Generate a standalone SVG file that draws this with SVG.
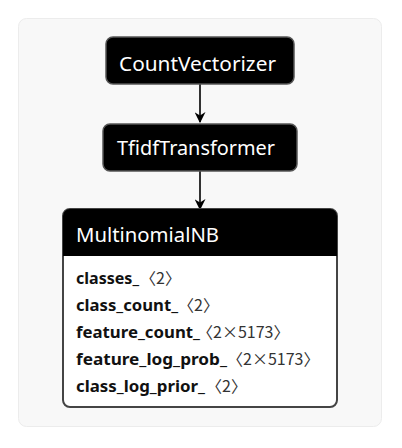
<svg xmlns="http://www.w3.org/2000/svg" width="402" height="448" viewBox="0 0 402 448">
<defs>
<marker id="arr" viewBox="0 0 10 10" refX="9" refY="5" markerWidth="11" markerHeight="11" markerUnits="userSpaceOnUse" orient="auto">
<path d="M0,0 L10,5 L0,10 L3,5 z" fill="#000"/>
</marker>
</defs>
<style>
.title{font-family:"Noto Sans","Open Sans","DejaVu Sans",sans-serif;font-size:20px;fill:#fff}
.name{font-family:"Noto Sans","Open Sans","DejaVu Sans",sans-serif;font-size:16.5px;font-weight:bold;fill:#111}
.shape{font-family:"Noto Sans CJK SC","Noto Sans",sans-serif;font-size:16px;fill:#333}
.box{fill:#000;stroke:#555;stroke-width:1.5}
.edge{stroke:#000;stroke-width:1.6;fill:none}
</style>
<rect x="18.5" y="18.5" width="363" height="408" rx="8" fill="#f8f8f8" stroke="#ececec" stroke-width="1"/>
<g id="connectors">
<line class="edge" x1="200" y1="84" x2="200" y2="122" marker-end="url(#arr)"/>
<line class="edge" x1="200" y1="171" x2="200" y2="209" marker-end="url(#arr)"/>
</g>
<g id="CountVectorizer">
<rect class="box" x="106" y="37" width="188" height="47" rx="7"/>
<text class="title" x="119" y="71" textLength="157" lengthAdjust="spacingAndGlyphs">CountVectorizer</text>
</g>
<g id="TfidfTransformer">
<rect class="box" x="103" y="124" width="194" height="47" rx="7"/>
<text class="title" x="117" y="155" textLength="158" lengthAdjust="spacingAndGlyphs">TfidfTransformer</text>
</g>
<g id="MultinomialNB">
<rect x="63" y="209" width="274" height="198" rx="7" fill="#fff" stroke="#444" stroke-width="2"/>
<path d="M63,256 V216 a7,7 0 0 1 7,-7 H330 a7,7 0 0 1 7,7 V256 z" fill="#000"/>
<text class="title" x="76" y="242" textLength="143" lengthAdjust="spacingAndGlyphs">MultinomialNB</text>
<text class="name" x="76" y="284" textLength="63" lengthAdjust="spacingAndGlyphs">classes_</text>
<text class="shape" x="140" y="284">〈2〉</text>
<text class="name" x="76" y="311" textLength="102" lengthAdjust="spacingAndGlyphs">class_count_</text>
<text class="shape" x="178" y="311">〈2〉</text>
<text class="name" x="76" y="338" textLength="124" lengthAdjust="spacingAndGlyphs">feature_count_</text>
<text class="shape" x="197" y="338">〈2×5173〉</text>
<text class="name" x="76" y="365" textLength="151" lengthAdjust="spacingAndGlyphs">feature_log_prob_</text>
<text class="shape" x="227" y="365">〈2×5173〉</text>
<text class="name" x="76" y="392" textLength="129" lengthAdjust="spacingAndGlyphs">class_log_prior_</text>
<text class="shape" x="206" y="392">〈2〉</text>
</g>
</svg>
